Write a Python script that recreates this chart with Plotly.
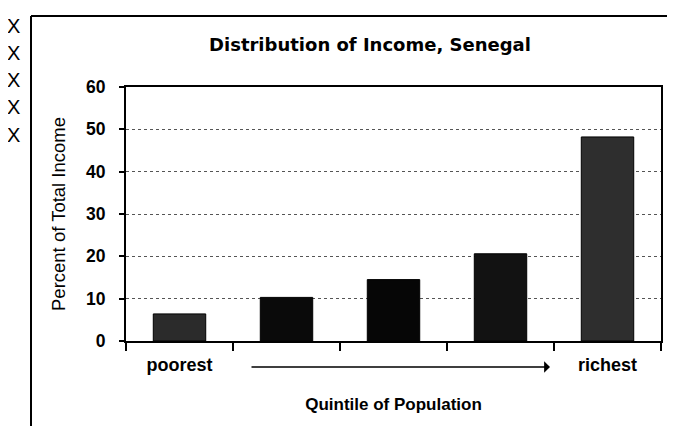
import plotly.graph_objects as go

categories = ["Q1", "Q2", "Q3", "Q4", "Q5"]
income_share = [6.4, 10.3, 14.5, 20.6, 48.2]
tick_labels = ["poorest", "", "", "", "richest"]
y_ticks = [0, 10, 20, 30, 40, 50, 60]
bar_colors = ["#2b2b2b", "#0a0a0a", "#060606", "#121212", "#2e2e2e"]

fig = go.Figure()
fig.add_trace(go.Bar(
    x=categories, y=income_share,
    marker=dict(color=bar_colors, line=dict(color="#000000", width=1)),
    showlegend=False,
))

ARIAL = "Liberation Sans, Arial, sans-serif"

# plot area in pixels: left 118, right 653, top 79, bottom 333
PL, PR, PT, PB = 118, 653, 79, 333
PW, PH = PR - PL, PB - PT

def px_x(p):
    return (p - PL) / PW

def px_y(p):
    return (PB - p) / PH

fig.update_layout(
    width=675, height=426,
    margin=dict(l=PL, r=675 - PR, t=PT, b=426 - PB),
    paper_bgcolor="white", plot_bgcolor="white",
    bargap=0.51,
    title=dict(text="<b>Distribution of Income, Senegal</b>", x=362/675, xref="container", xanchor="center",
               y=1 - 37/426, yref="container", yanchor="middle",
               font=dict(family="DejaVu Sans, sans-serif", size=18, color="#000")),
    xaxis=dict(
        type="category", categoryorder="array", categoryarray=categories,
        tickmode="array", tickvals=categories, ticktext=tick_labels,
        tickfont=dict(family=ARIAL, size=18, color="#000", weight="bold"),
        ticks="outside", tickson="boundaries", ticklen=8, tickwidth=1.5,
        tickcolor="#000", ticklabelstandoff=6,
        showline=True, linecolor="#000", linewidth=2, mirror=True,
        showgrid=False,
        title=dict(text="Quintile of Population", standoff=25,
                   font=dict(family=ARIAL, size=17, color="#000", weight="bold")),
    ),
    yaxis=dict(
        range=[0, 60], tickmode="array", tickvals=y_ticks,
        tickfont=dict(family=ARIAL, size=17.5, color="#000", weight="bold"),
        ticks="outside", ticklen=5, tickwidth=1.5, tickcolor="#000",
        ticklabelstandoff=10,
        showline=True, linecolor="#000", linewidth=2, mirror=True,
        showgrid=True, gridcolor="#555", griddash="dot", gridwidth=1,
        zeroline=False,
        title=dict(text="Percent of Total Income", standoff=16,
                   font=dict(family=ARIAL, size=18.5, color="#000")),
    ),
)

# scan-page decorations: outer frame and left margin marks
fig.add_shape(type="line", xref="paper", yref="paper", x0=px_x(23), x1=px_x(23), y0=px_y(430), y1=px_y(8),
              line=dict(color="#000", width=2))
fig.add_shape(type="line", xref="paper", yref="paper", x0=px_x(23), x1=px_x(662), y0=px_y(8), y1=px_y(8),
              line=dict(color="#000", width=2))
for yy in [18, 45, 72, 99, 127]:
    fig.add_annotation(text="X", xref="paper", yref="paper", x=px_x(-3), y=px_y(yy),
                       xanchor="left", yanchor="middle", showarrow=False,
                       font=dict(family=ARIAL, size=20, color="#000"))

# direction arrow between the labels
fig.add_annotation(xref="x domain", yref="y domain", x=px_x(542), y=px_y(359),
                   axref="x domain", ayref="y domain", ax=px_x(242), ay=px_y(359),
                   text="", showarrow=True, arrowhead=1, arrowsize=1.3,
                   arrowwidth=1.5, arrowcolor="#000")

fig.write_html("out.html")
